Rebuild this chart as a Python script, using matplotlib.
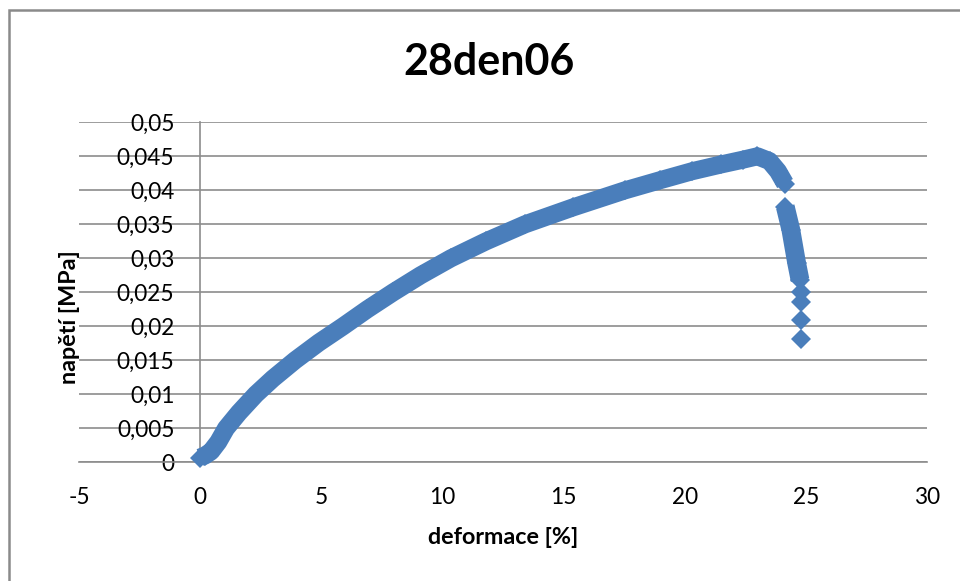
import numpy as np
import matplotlib
matplotlib.use("Agg")
import matplotlib.pyplot as plt
from matplotlib.patches import Rectangle

plt.rcParams["font.family"] = ["Lato", "DejaVu Sans"]

# Tensile test 28den06: strain [%] vs. stress [MPa]
deformace = [0.0, 0.2, 0.45, 0.75, 1.07, 1.6, 2.3, 3.0, 3.92, 4.9, 5.9, 6.9,
             7.97, 9.1, 10.35, 11.8, 13.41, 15.4, 17.54, 19.0, 20.3, 21.5,
             22.4, 23.0, 23.5, 23.85, 24.14,
             24.15, 24.38, 24.62, 24.76,
             24.80, 24.80, 24.79, 24.79]
napeti = [0.0007, 0.0010, 0.0016, 0.0030, 0.0050, 0.0073, 0.0100, 0.0123,
          0.0150, 0.0176, 0.0200, 0.0225, 0.0250, 0.0275, 0.0300, 0.0325,
          0.0350, 0.0375, 0.0400, 0.0415, 0.0428, 0.0438, 0.0445, 0.0450,
          0.0443, 0.0428, 0.0410,
          0.0376, 0.0342, 0.0293, 0.0268,
          0.0251, 0.0236, 0.0210, 0.0182]

x_ticks = [-5, 0, 5, 10, 15, 20, 25, 30]
x_tick_labels = ["-5", "0", "5", "10", "15", "20", "25", "30"]
y_ticks = [0, 0.005, 0.01, 0.015, 0.02, 0.025, 0.03, 0.035, 0.04, 0.045, 0.05]
y_tick_labels = ["0", "0,005", "0,01", "0,015", "0,02", "0,025", "0,03",
                 "0,035", "0,04", "0,045", "0,05"]

title = "28den06"
x_label = "deformace [%]"
y_label = "napětí [MPa]"

BLUE = "#4a7ebb"
GRID = "#8c8c8c"
W, H = 960, 581

fig = plt.figure(figsize=(W / 100, H / 100), dpi=100)
fig.patch.set_facecolor("white")

# outer chart frame
fig.patches.append(Rectangle((9 / W, -0.1), 1.2, 1 - 10 / H + 0.1,
                             transform=fig.transFigure, fill=False,
                             edgecolor="#8a8a8a", lw=1.8))

ax = fig.add_axes([79 / W, (H - 462.3) / H, (927 - 79) / W, 340 / H])
ax.set_facecolor("none")
ax.set_xlim(-5, 30)
ax.set_ylim(0, 0.05)
ax.set_xticks(x_ticks)
ax.set_xticklabels(x_tick_labels)
ax.set_yticks(y_ticks)
ax.set_yticklabels(y_tick_labels)

ax.yaxis.grid(True, color=GRID, lw=1.2)
ax.set_axisbelow(True)
for side in ("top", "right"):
    ax.spines[side].set_visible(False)
ax.spines["left"].set_position(("data", 0))
ax.spines["left"].set_color(GRID)
ax.spines["left"].set_linewidth(1.2)
ax.spines["bottom"].set_color(GRID)
ax.spines["bottom"].set_linewidth(1.2)
ax.tick_params(axis="y", length=0, pad=18.5, labelsize=16.3, colors="black")
ax.tick_params(axis="x", length=0, pad=18, labelsize=16.3, colors="black")

# dense measurement points render as a continuous band of diamonds
x = np.array(deformace)
y = np.array(napeti)
ax.plot(x[:27], y[:27], color=BLUE, lw=13, solid_joinstyle="round",
        solid_capstyle="butt", clip_on=False, zorder=3)
ax.plot(x[27:31], y[27:31], color=BLUE, lw=13.5, solid_joinstyle="round",
        solid_capstyle="butt", clip_on=False, zorder=3)
ax.plot(x, y, ls="none", marker="D", ms=10.3, mfc=BLUE, mec=BLUE, mew=0,
        clip_on=False, zorder=4)

fig.text(489 / W, 1 - 62 / H, title, ha="center", va="center",
         fontsize=31, fontweight="bold")
fig.text(503 / W, 1 - 537 / H, x_label, ha="center", va="center",
         fontsize=16.8, fontweight="bold")
fig.text(69 / W, 1 - 317 / H, y_label, ha="center", va="center",
         rotation=90, fontsize=16.8, fontweight="bold")

fig.savefig("out.png", dpi=100)
